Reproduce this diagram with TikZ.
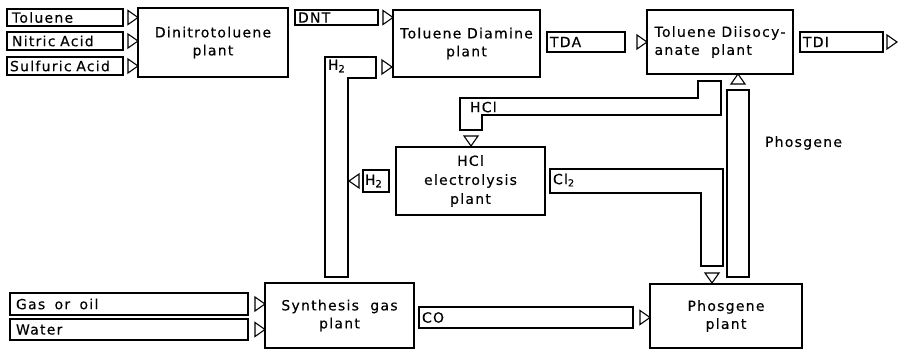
\documentclass[tikz,border=0pt]{standalone}
\usepackage{fontspec}
\setmainfont{DejaVu Sans}[LetterSpace=9,FakeBold=0.3]
\begin{document}
\begin{tikzpicture}[x=1pt,y=-1pt,line width=1.2pt,
  font=\fontsize{14}{18}\selectfont,
  every node/.style={outer sep=0pt},
  plantbox/.style={draw, inner sep=0pt, anchor=north west, align=center},
  bar/.style={draw, inner xsep=5pt, inner ysep=0pt, anchor=north west, align=left},
  lbl/.style={inner sep=0pt, anchor=west},
  tri/.pic={\draw[fill=white, line width=1.1pt] (-10,-7) -- (0,0) -- (-10,7) -- cycle;}]
\useasboundingbox (0,0) rectangle (898,350);
% plants
\node[plantbox, minimum width=150, minimum height=69] (dntp) at (138,8) {Dinitrotoluene\\plant};
\node[plantbox, minimum width=147, minimum height=67] (tdap) at (393,10) {Toluene Diamine\\plant};
\node[plantbox, minimum width=146, minimum height=64, align=left] (tdip) at (647,10) {Toluene Diisocy-\\anate\ \ plant};
\node[plantbox, minimum width=149, minimum height=68, font=\fontsize{14}{19}\selectfont] (hclp) at (396,147) {HCl\\electrolysis\\plant};
\node[plantbox, minimum width=149, minimum height=65] (synp) at (265,283) {Synthesis\ \ gas\\plant};
\node[plantbox, minimum width=152, minimum height=64] (phop) at (650,284) {Phosgene\\plant};
% straight bars
\node[bar, text width=106, minimum height=17] (tol) at (7,9) {Toluene};
\node[bar, text width=106, minimum height=18] (nit) at (7,32) {Nitric Acid};
\node[bar, inner xsep=3pt, text width=110, minimum height=18] (sul) at (7,57) {Sulfuric Acid};
\node[bar, inner xsep=3pt, text width=77, minimum height=15] (dnt) at (295,10) {DNT};
\node[bar, inner xsep=3pt, text width=72, minimum height=20] (tda) at (547,32) {TDA};
\node[bar, inner xsep=3pt, text width=77, minimum height=20] (tdi) at (800,32) {TDI};
\node[bar, inner xsep=2pt, text width=22, minimum height=22] (htwo) at (363,170) {H\textsubscript{2}};
\node[bar, inner xsep=3pt, text width=208, minimum height=21] (co) at (419,307) {CO};
\node[bar, inner xsep=6pt, text width=226, minimum height=22] (gas) at (10,293) {Gas\ \ or\ \ oil};
\node[bar, inner xsep=6pt, text width=226, minimum height=21] (wat) at (10,319) {Water};
\node[draw, inner sep=0pt, anchor=north west, minimum width=22, minimum height=187] (phopipe) at (727,90) {};
% L-shaped pipes
\coordinate (hA) at (325,57);
\draw (hA) -- ++(51,0) -- ++(0,21) -- ++(-28,0) -- ++(0,199) -- ++(-23,0) -- cycle;
\node[lbl] (hlab) at (328,66) {H\textsubscript{2}};
\coordinate (cA) at (698,81);
\draw (cA) -- ++(23,0) -- ++(0,34) -- ++(-239,0) -- ++(0,15) -- ++(-22,0) -- ++(0,-32) -- ++(238,0) -- cycle;
\node[lbl] (hcllab) at (470,107) {HCl};
\coordinate (lA) at (550,169);
\draw (lA) -- ++(173,0) -- ++(0,97) -- ++(-22,0) -- ++(0,-73) -- ++(-151,0) -- cycle;
\node[lbl] (cllab) at (553,180) {Cl\textsubscript{2}};
\node[lbl] (pholab) at (765,143) {Phosgene};
% arrowheads
\pic at (dntp.west |- tol.east) {tri};
\pic at (dntp.west |- nit.east) {tri};
\pic at (dntp.west |- sul.east) {tri};
\pic at (tdap.west |- dnt.east) {tri};
\pic at (392,67) {tri};
\pic at (tdip.west |- tda.east) {tri};
\pic at (897,42) {tri};
\pic[rotate=90] at (phopipe.north |- tdip.south) {tri};
\pic[rotate=-90] at (471,146) {tri};
\pic[rotate=180] at (349,181) {tri};
\pic[rotate=-90] at (712,283) {tri};
\pic at (phop.west |- co.east) {tri};
\pic at (synp.west |- gas.east) {tri};
\pic at (synp.west |- wat.east) {tri};
\end{tikzpicture}
\end{document}
